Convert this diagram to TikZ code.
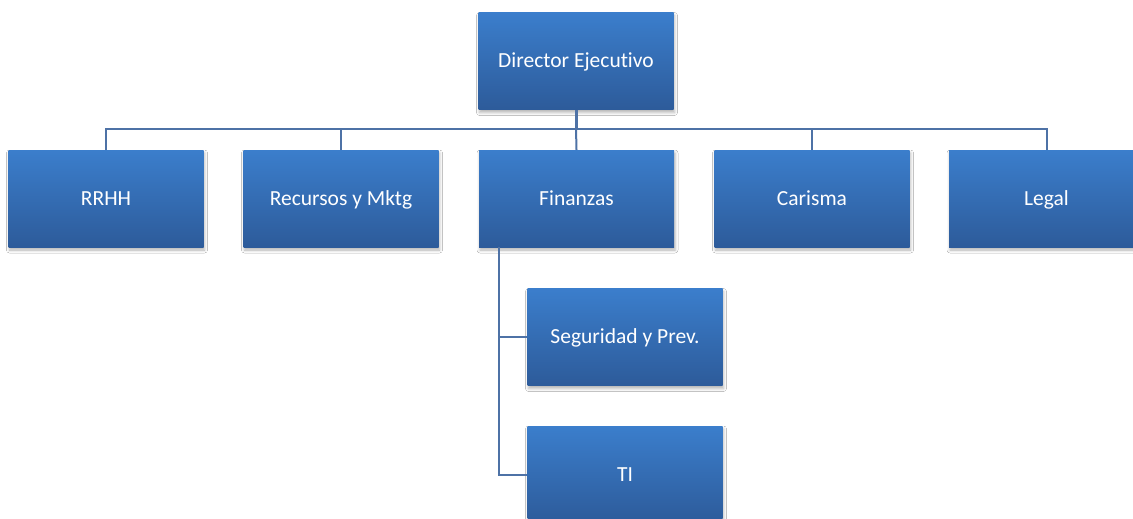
\documentclass[tikz,border=0pt]{standalone}
\usepackage{fontspec}
\setmainfont{Carlito}[Ligatures=NoCommon]
\usetikzlibrary{shadows.blur}
\definecolor{boxtop}{RGB}{59,126,204}
\definecolor{boxbot}{RGB}{45,91,154}
\definecolor{linec}{RGB}{78,114,166}
\tikzset{
  orgbox/.style={rectangle, minimum width=195pt, minimum height=97pt, inner sep=0pt,
    top color=boxtop, bottom color=boxbot, text=white,
    font=\fontsize{21.5}{25}\selectfont, text height=16pt, text depth=3pt,
    blur shadow={shadow xshift=1pt, shadow yshift=-3pt, shadow blur radius=3pt, shadow opacity=30}},
  link/.style={draw=linec, line width=2pt}
}
\begin{document}
\begin{tikzpicture}[x=1pt,y=-1pt]
\useasboundingbox (0,0) rectangle (1133,519);
\clip (0,0) rectangle (1133,519);
\fill[white] (0,0) rectangle (1133,519);
\coordinate (busy) at (0,128.5);
\coordinate (finx) at (498.5,0);
\node[orgbox] (dir) at (576,61) {Director Ejecutivo};
\node[orgbox] (rrhh) at (106,198.5) {RRHH};
\node[orgbox] (rec) at (341,198.5) {Recursos y Mktg};
\node[orgbox] (fin) at (576.5,198.5) {Finanzas};
\node[orgbox] (car) at (812,198.5) {Carisma};
\node[orgbox] (leg) at (1046.5,198.5) {Legal};
\node[orgbox] (seg) at (625,337) {Seguridad y Prev.};
\node[orgbox] (ti) at (625,474.5) {TI};
\draw[link, line width=3pt] (dir.south) -- (dir.south |- busy);
\draw[link] (dir.south |- busy) -- (fin.north);
\draw[link] (rrhh.north) -- (rrhh.north |- busy) -- (leg.north |- busy) -- (leg.north);
\draw[link] (rec.north) -- (rec.north |- busy);
\draw[link] (car.north) -- (car.north |- busy);
\draw[link] (finx |- fin.south) -- (finx |- ti.west) -- (ti.west);
\draw[link] (finx |- seg.west) -- (seg.west);
\end{tikzpicture}
\end{document}
